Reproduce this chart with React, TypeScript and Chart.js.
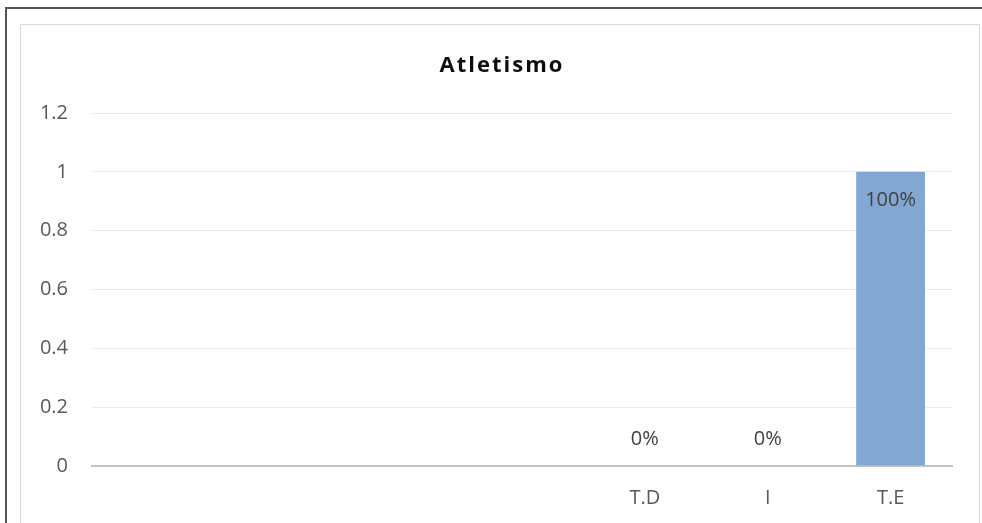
import React, { useEffect, useRef } from "react";
import { Chart, registerables } from "chart.js";

Chart.register(...registerables);

const categories = ["", "", "", "", "T.D", "I", "T.E"];
const values: (number | null)[] = [null, null, null, null, 0, 0, 1];
const valueLabels: (string | null)[] = [null, null, null, null, "0%", "0%", "100%"];
const titleText = "Atletismo";
const yMin = 0;
const yMax = 1.2;
const yStep = 0.2;

const FONT = "'Open Sans', 'Noto Sans', sans-serif";
const TEXT_COLOR = "#595959";

const dataLabelPlugin = {
  id: "dataLabels",
  afterDatasetsDraw(chart: any) {
    const ctx = chart.ctx;
    const meta = chart.getDatasetMeta(0);
    ctx.save();
    ctx.font = `20px ${FONT}`;
    ctx.fillStyle = "#404040";
    ctx.textAlign = "center";
    ctx.textBaseline = "middle";
    meta.data.forEach((bar: any, i: number) => {
      const label = valueLabels[i];
      const v = values[i];
      if (label == null || v == null) return;
      const y = v > 0 ? bar.y + 28 : bar.y - 27;
      ctx.fillText(label, bar.x, y);
    });
    ctx.restore();
  },
};

export default function App() {
  const canvasRef = useRef<HTMLCanvasElement | null>(null);

  useEffect(() => {
    const canvas = canvasRef.current;
    if (!canvas) return;
    const chart = new Chart(canvas, {
      type: "bar",
      data: {
        labels: categories,
        datasets: [
          {
            data: values,
            backgroundColor: "#81A7D2",
            borderWidth: 0,
            barPercentage: 0.56,
            categoryPercentage: 1,
          },
        ],
      },
      options: {
        responsive: false,
        animation: false,
        layout: { padding: { left: 0, right: 30, top: 113, bottom: 0 } },
        plugins: {
          legend: { display: false },
          title: { display: false },
          tooltip: { enabled: false },
        },
        scales: {
          x: {
            grid: { display: false, drawTicks: false },
            border: { display: true, color: "#c4c4c4", width: 2 },
            ticks: {
              color: TEXT_COLOR,
              font: { family: FONT, size: 20 },
              padding: 20,
              maxRotation: 0,
              autoSkip: false,
            },
            afterFit(scale: any) {
              scale.height = 57;
              scale.paddingLeft = 0;
              scale.paddingRight = 0;
            },
          },
          y: {
            min: yMin,
            max: yMax,
            grid: { color: "#ececec", lineWidth: 1, drawTicks: false },
            border: { display: false },
            ticks: {
              stepSize: yStep,
              color: TEXT_COLOR,
              font: { family: FONT, size: 20 },
              padding: 24,
              callback: (v: any) => String(Math.round(Number(v) * 10) / 10),
            },
            afterFit(scale: any) {
              scale.width = 92;
              scale.paddingTop = 0;
              scale.paddingBottom = 0;
            },
          },
        },
      },
      plugins: [dataLabelPlugin],
    });
    return () => chart.destroy();
  }, []);

  return (
    <div
      style={{
        position: "absolute",
        left: 0,
        top: 0,
        width: 982,
        height: 523,
        background: "#fff",
        overflow: "hidden",
      }}
    >
      <div
        style={{
          position: "absolute",
          left: 5,
          top: 7,
          width: 990,
          height: 600,
          borderLeft: "2px solid #555",
          borderTop: "2px solid #555",
        }}
      />
      <div
        style={{
          position: "absolute",
          left: 20,
          top: 24,
          width: 958,
          height: 600,
          border: "1px solid #d9d9d9",
        }}
      />
      <canvas
        ref={canvasRef}
        width={982}
        height={523}
        style={{ position: "absolute", left: 0, top: 0 }}
      />
      <div
        style={{
          position: "absolute",
          left: 22,
          width: 960,
          top: 47,
          textAlign: "center",
          fontFamily: FONT,
          fontWeight: 700,
          fontSize: 22,
          lineHeight: "32px",
          letterSpacing: "2px",
          color: "#0d0d0d",
        }}
      >
        {titleText}
      </div>
    </div>
  );
}
